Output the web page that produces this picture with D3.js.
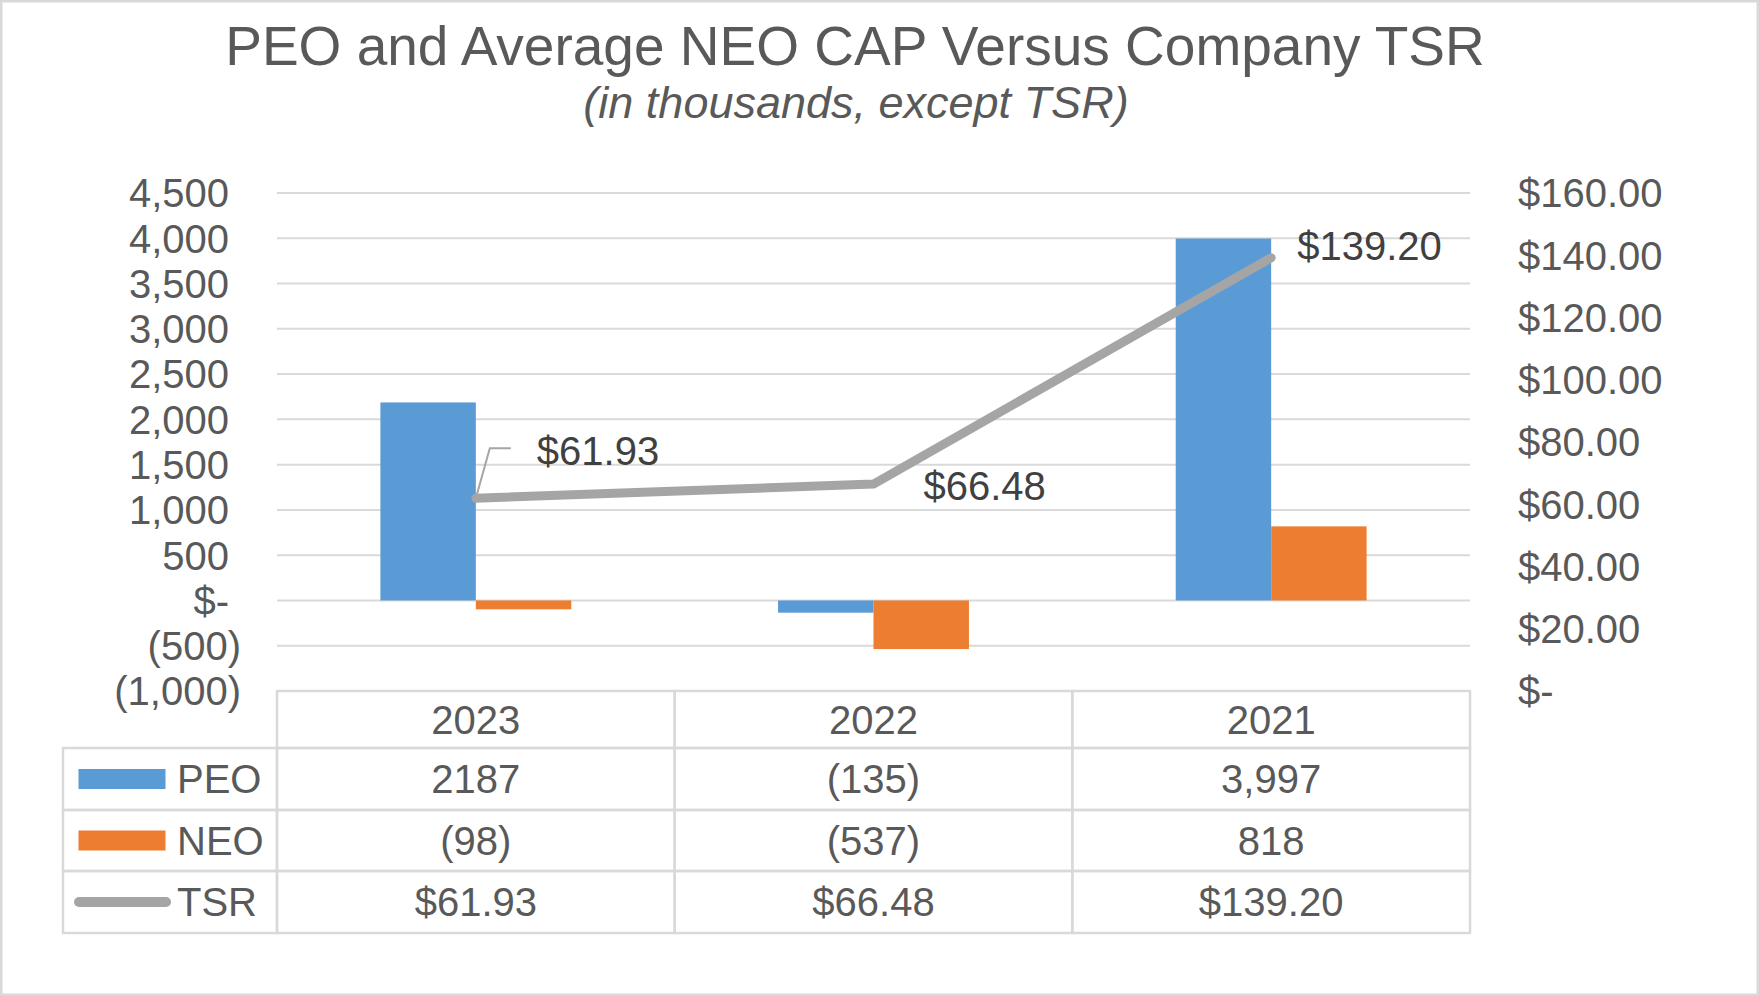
<!DOCTYPE html>
<html>
<head>
    <meta charset="utf-8" />
    <title>PEO and Average NEO CAP Versus Company TSR</title>
    <script src="https://d3js.org/d3.v7.min.js"></script>
    <style>
        body { margin: 0; background: #ffffff; }
        text { font-family: Arial, "Liberation Sans", sans-serif; fill: #595959; }
        .grid { stroke: #d9d9d9; stroke-width: 2; }
        .cell { stroke: #d9d9d9; stroke-width: 2.5; fill: none; }
    </style>
</head>
<body>
<div id="chart"></div>
<script type="text/javascript">
    var years = ["2023", "2022", "2021"];
    var peo = [2187, -135, 3997];
    var neo = [-98, -537, 818];
    var tsr = [61.93, 66.48, 139.20];
    var peoText = ["2187", "(135)", "3,997"];
    var neoText = ["(98)", "(537)", "818"];
    var tsrText = ["$61.93", "$66.48", "$139.20"];
    var leftTicks = [-1000, -500, 0, 500, 1000, 1500, 2000, 2500, 3000, 3500, 4000, 4500];
    var rightTicks = [0, 20, 40, 60, 80, 100, 120, 140, 160];

    var W = 1759, H = 996;
    var plotL = 277, plotR = 1470, plotT = 193, plotB = 691;
    var rowH = [57, 62, 61, 62];
    var tableLeft = 63;

    var svg = d3.select("#chart").append("svg")
        .attr("width", W)
        .attr("height", H);

    svg.append("rect")
        .attr("x", 1.25).attr("y", 1.25)
        .attr("width", W - 2.5).attr("height", H - 2.5)
        .attr("fill", "#fff")
        .attr("stroke", "#d9d9d9")
        .attr("stroke-width", 2.5);

    // titles
    svg.append("text")
        .attr("x", 855).attr("y", 65)
        .attr("text-anchor", "middle")
        .style("font-size", "55px")
        .text("PEO and Average NEO CAP Versus Company TSR");
    svg.append("text")
        .attr("x", 856).attr("y", 118)
        .attr("text-anchor", "middle")
        .style("font-size", "45px")
        .style("font-style", "italic")
        .text("(in thousands, except TSR)");

    var x0 = d3.scaleBand().domain(years).range([plotL, plotR]);
    var bw = x0.bandwidth();
    var x1 = d3.scaleBand().domain(["PEO", "NEO"]).range([bw * 0.26, bw * 0.74]);
    var yL = d3.scaleLinear().domain([-1000, 4500]).range([plotB, plotT]);
    var yR = d3.scaleLinear().domain([0, 160]).range([plotB, plotT]);

    // gridlines
    svg.selectAll(".grid")
        .data(leftTicks.filter(function(d) { return d > -1000; }))
        .enter().append("line")
        .attr("class", "grid")
        .attr("x1", plotL).attr("x2", plotR)
        .attr("y1", function(d) { return yL(d); })
        .attr("y2", function(d) { return yL(d); });

    // left axis labels
    function fmtLeft(d) {
        if (d === 0) return "$-";
        if (d < 0) return "(" + d3.format(",")(-d) + ")";
        return d3.format(",")(d);
    }
    svg.selectAll(".ltick")
        .data(leftTicks)
        .enter().append("text")
        .attr("class", "ltick")
        .attr("x", function(d) { return d < 0 ? 241 : 229; })
        .attr("y", function(d) { return yL(d); })
        .attr("dy", "0.36em")
        .attr("text-anchor", "end")
        .style("font-size", "40px")
        .text(fmtLeft);

    // right axis labels
    svg.selectAll(".rtick")
        .data(rightTicks)
        .enter().append("text")
        .attr("class", "rtick")
        .attr("x", 1518)
        .attr("y", function(d) { return yR(d); })
        .attr("dy", "0.36em")
        .style("font-size", "40px")
        .text(function(d) { return d === 0 ? "$-" : "$" + d3.format(".2f")(d); });

    // bars
    function bars(vals, key, color) {
        svg.selectAll(".bar-" + key)
            .data(vals)
            .enter().append("rect")
            .attr("class", "bar-" + key)
            .attr("x", function(d, i) { return x0(years[i]) + x1(key); })
            .attr("width", x1.bandwidth())
            .attr("y", function(d) { return yL(Math.max(0, d)); })
            .attr("height", function(d) { return Math.abs(yL(d) - yL(0)); })
            .attr("fill", color);
    }
    bars(peo, "PEO", "#5b9bd5");
    bars(neo, "NEO", "#ed7d31");

    // TSR line
    var cx = function(i) { return x0(years[i]) + bw / 2; };
    var line = d3.line()
        .x(function(d, i) { return cx(i); })
        .y(function(d) { return yR(d); });
    svg.append("path")
        .datum(tsr)
        .attr("d", line)
        .attr("fill", "none")
        .attr("stroke", "#a5a5a5")
        .attr("stroke-width", 9)
        .attr("stroke-linejoin", "round")
        .attr("stroke-linecap", "round");

    // data labels (offsets from the point, as placed in the original)
    var labelOff = [[61, -33], [50, 16], [26, 2]];
    svg.selectAll(".dlabel")
        .data(tsr)
        .enter().append("text")
        .attr("class", "dlabel")
        .attr("x", function(d, i) { return cx(i) + labelOff[i][0]; })
        .attr("y", function(d, i) { return yR(d) + labelOff[i][1]; })
        .style("font-size", "40px")
        .style("fill", "#404040")
        .text(function(d, i) { return tsrText[i]; });
    // leader line for first label
    var p0x = cx(0), p0y = yR(tsr[0]);
    svg.append("path")
        .attr("d", "M" + p0x + "," + p0y + "L" + (p0x + 14) + "," + (p0y - 50) + "L" + (p0x + 35) + "," + (p0y - 50))
        .attr("fill", "none")
        .attr("stroke", "#a5a5a5")
        .attr("stroke-width", 2);

    // data table
    var rowTop = [plotB];
    for (var r = 0; r < rowH.length; r++) rowTop.push(rowTop[r] + rowH[r]);

    years.forEach(function(y, i) {
        svg.append("rect").attr("class", "cell")
            .attr("x", x0(y)).attr("y", rowTop[0])
            .attr("width", bw).attr("height", rowH[0]);
        svg.append("text")
            .attr("x", x0(y) + bw / 2)
            .attr("y", rowTop[0] + rowH[0] / 2)
            .attr("dy", "0.36em")
            .attr("text-anchor", "middle")
            .style("font-size", "40px")
            .text(y);
    });

    var rows = [
        { name: "PEO", text: peoText, color: "#5b9bd5", type: "rect" },
        { name: "NEO", text: neoText, color: "#ed7d31", type: "rect" },
        { name: "TSR", text: tsrText, color: "#a5a5a5", type: "line" }
    ];
    rows.forEach(function(row, r) {
        var ty = rowTop[r + 1], th = rowH[r + 1], mid = ty + th / 2;
        svg.append("rect").attr("class", "cell")
            .attr("x", tableLeft).attr("y", ty)
            .attr("width", plotL - tableLeft).attr("height", th);
        if (row.type === "rect") {
            svg.append("rect")
                .attr("x", 78.5).attr("y", mid - 10)
                .attr("width", 87).attr("height", 20)
                .attr("fill", row.color);
        } else {
            svg.append("line")
                .attr("x1", 79).attr("x2", 166)
                .attr("y1", mid).attr("y2", mid)
                .attr("stroke", row.color)
                .attr("stroke-width", 10)
                .attr("stroke-linecap", "round");
        }
        svg.append("text")
            .attr("x", 177).attr("y", mid)
            .attr("dy", "0.36em")
            .style("font-size", "40px")
            .text(row.name);
        years.forEach(function(y, i) {
            svg.append("rect").attr("class", "cell")
                .attr("x", x0(y)).attr("y", ty)
                .attr("width", bw).attr("height", th);
            svg.append("text")
                .attr("x", x0(y) + bw / 2)
                .attr("y", mid)
                .attr("dy", "0.36em")
                .attr("text-anchor", "middle")
                .style("font-size", "40px")
                .text(row.text[i]);
        });
    });
</script>
</body>
</html>
